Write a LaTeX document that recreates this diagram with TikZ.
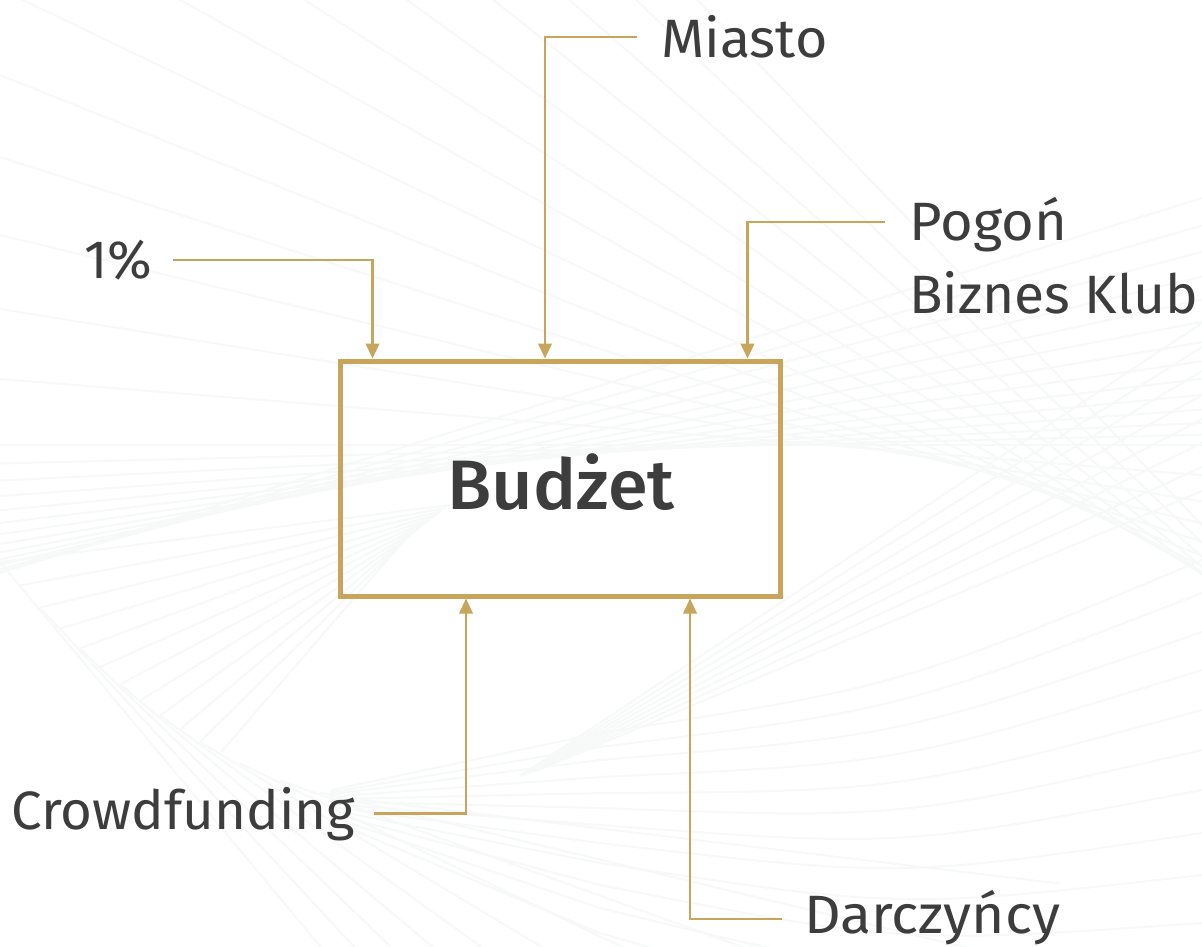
\documentclass[tikz,border=0pt]{standalone}
\usepackage{fontspec}
\setmainfont{Fira Sans}[BoldFont=* Medium]
\usetikzlibrary{arrows.meta,calc}
\definecolor{gold}{HTML}{C9A55C}
\definecolor{ink}{HTML}{3D3D3D}
\definecolor{faint}{HTML}{F7F8F8}
\newcommand{\wider}[1]{\addfontfeature{FakeStretch=#1}}
\tikzset{
 lab/.style={anchor=base west,inner sep=0pt,text=ink,font=\fontsize{54}{73}\selectfont},
 conn/.style={draw=gold,line width=2.4pt,-{Triangle[length=15pt,width=13.5pt]}},
 mainbox/.style={draw=gold,line width=5pt,fill=none,inner sep=0pt,minimum width=439.5pt,minimum height=235pt},
 bg/.style={draw=faint,line width=2pt}
}
\begin{document}
\begin{tikzpicture}[x=1pt,y=-1pt]
\useasboundingbox (0,0) rectangle (1202,946);
\fill[white] (0,0) rectangle (1202,946);
% background guilloche
\begin{scope}
\clip (0,0) rectangle (1202,946);
% arch, left side
\foreach \u in {0,-0.6,...,-8}{
  \pgfmathsetmacro{\xa}{800+100*\u}
  \pgfmathsetmacro{\ya}{445+2*\u*\u}
  \pgfmathsetmacro{\ma}{0.04*\u}
  \draw[bg] (0,{\ya-\ma*\xa}) -- (1202,{\ya+\ma*(1202-\xa)});
}
% arch, right side
\foreach \u in {0.5,1,...,6.5}{
  \pgfmathsetmacro{\xa}{800+100*\u}
  \pgfmathsetmacro{\ya}{445+8*\u*\u}
  \pgfmathsetmacro{\ma}{0.16*\u}
  \draw[bg] (0,{\ya-\ma*\xa}) -- (1202,{\ya+\ma*(1202-\xa)});
}
% valley, left side
\foreach \u in {-0.4,-0.8,...,-4.4}{
  \pgfmathsetmacro{\xa}{400+100*\u}
  \pgfmathsetmacro{\ya}{802-15*\u*\u}
  \pgfmathsetmacro{\ma}{-0.3*\u}
  \draw[bg] (\xa,\ya) -- ++(700,{700*\ma});
}
% fan converging beside the box
\foreach \i in {0,...,11}{
  \pgfmathsetmacro{\xb}{20*\i}
  \pgfmathsetmacro{\yb}{802-15*(\xb/100-4)*(\xb/100-4)}
  \draw[bg] (\xb,\yb) -- ({450-4*\i},{505+3*\i});
}
% sagging curves, lower right
\foreach \yl/\yr in {733/560,747/593,760/632,777/670,793/710,808/750,825/790,843/833,863/875,885/923,908/973,933/1027}{
  \pgfmathsetmacro{\yc}{(\yl+\yr)/2+40}
  \pgfmathsetmacro{\ys}{798+0.15*(\yl-785)}
  \draw[bg] (330,\ys) -- (600,\yl) .. controls (900,\yc) .. (1202,\yr);
}
% rising band, opening towards the right edge
\foreach \i in {0,...,7}{
  \draw[bg] ({520+3*\i},{776-\i}) -- (1202,{323+24*\i});
}
\end{scope}
\node[mainbox] (box) at (560.25,478.5) {};
\node[anchor=base,inner sep=0pt,text=ink,font=\fontsize{70}{84}\selectfont\bfseries] (budzet) at (561,509.5) {\wider{1.03}Budżet};
\node[lab] (miasto) at (661,57) {\wider{1.03}Miasto};
\node[lab] (pogon) at (909,240) {\wider{1.04}Pogoń};
\node[lab] (klub) at (909,313) {\wider{1.02}Biznes Klub};
\node[lab] (proc) at (84,278) {1\%};
\node[lab] (crowd) at (11,829) {\wider{1.012}Crowdfunding};
\node[lab] (darcz) at (804,933) {\wider{1.055}Darczyńcy};
\coordinate (s1) at (173,260);
\coordinate (s2) at (637,37);
\coordinate (s3) at (885,222);
\coordinate (s4) at (374,813.5);
\coordinate (s5) at (782,919);
\draw[conn] (s1) -| ($(box.north west)+(34.5,0)$);
\draw[conn] (s2) -| ($(box.north west)+(207,0)$);
\draw[conn] (s3) -| ($(box.north west)+(409.5,0)$);
\draw[conn] (s4) -| ($(box.south west)+(128,0)$);
\draw[conn] (s5) -| ($(box.south west)+(352,0)$);
\end{tikzpicture}
\end{document}
